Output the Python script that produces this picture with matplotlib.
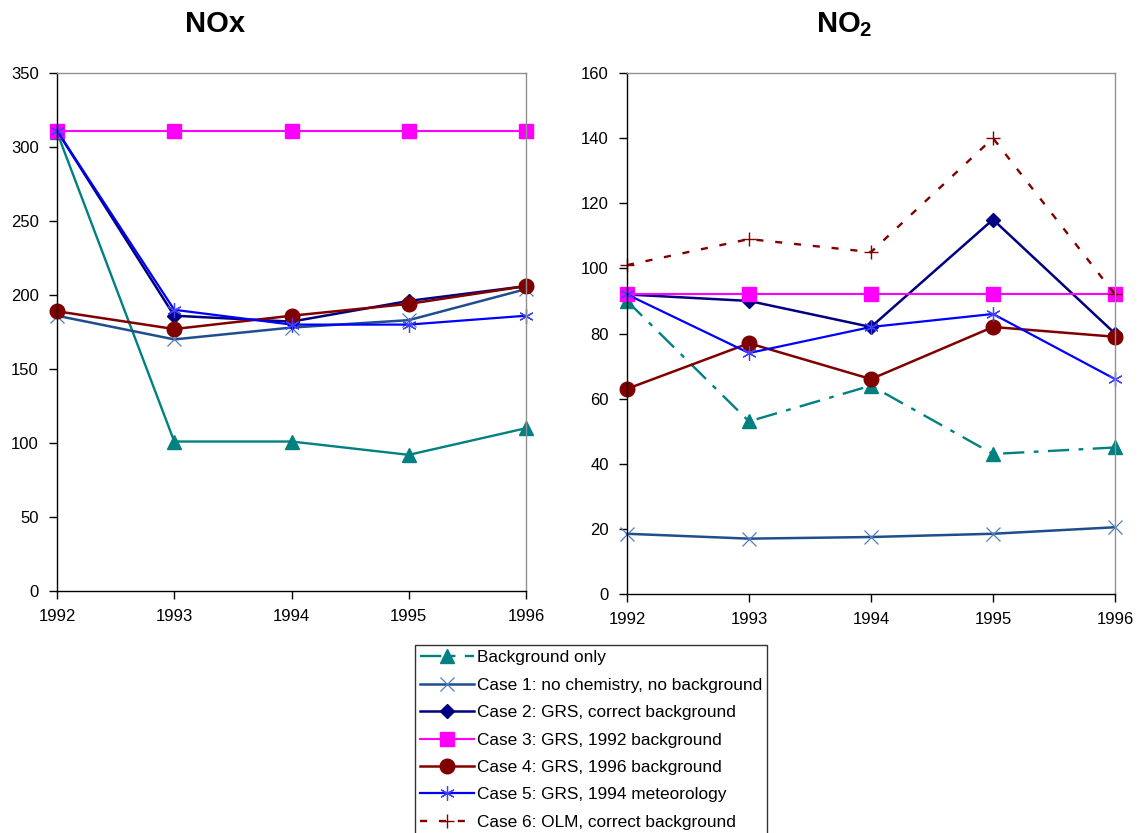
import matplotlib
matplotlib.use("Agg")
import matplotlib.pyplot as plt
from matplotlib.lines import Line2D

plt.rcParams['font.family'] = ['Liberation Sans', 'DejaVu Sans']
plt.rcParams['mathtext.fontset'] = 'custom'
plt.rcParams['mathtext.rm'] = 'Liberation Sans'
plt.rcParams['mathtext.bf'] = 'Liberation Sans:bold'

years = [1992, 1993, 1994, 1995, 1996]

labels = ["Background only",
          "Case 1: no chemistry, no background",
          "Case 2: GRS, correct background",
          "Case 3: GRS, 1992 background",
          "Case 4: GRS, 1996 background",
          "Case 5: GRS, 1994 meteorology",
          "Case 6: OLM, correct background"]

nox_background = [310, 101, 101, 92, 110]
nox_case1 = [186, 170, 178, 183, 204]
nox_case2 = [311, 186, 182, 196, 206]
nox_case3 = [311, 311, 311, 311, 311]
nox_case4 = [189, 177, 186, 194, 206]
nox_case5 = [311, 190, 180, 180, 186]

no2_background = [90, 53, 64, 43, 45]
no2_case1 = [18.5, 17, 17.5, 18.5, 20.5]
no2_case2 = [92, 90, 82, 115, 80]
no2_case3 = [92, 92, 92, 92, 92]
no2_case4 = [63, 77, 66, 82, 79]
no2_case5 = [92, 74, 82, 86, 66]
no2_case6 = [101, 109, 105, 140, 92]

asterisk = (6, 2, 0)
styles = [
    dict(color="#008080", ls=(0, (9, 4, 2, 4)), lw=1.7, marker="^", ms=10.5),
    dict(color="#1F4E8C", ls="-", lw=1.8, marker="x", ms=9.5, mew=0.9, mec="#4F7FBF"),
    dict(color="#000080", ls="-", lw=1.8, marker="D", ms=7.5),
    dict(color="#FF00FF", ls="-", lw=1.5, marker="s", ms=10.5),
    dict(color="#800000", ls="-", lw=1.8, marker="o", ms=10.5),
    dict(color="#0000FF", ls="-", lw=1.6, marker=asterisk, ms=10.5, mew=0.9, mec="#4040FF"),
    dict(color="#800000", ls=(0, (3, 5)), lw=1.7, marker="+", ms=10, mew=1.0),
]

fig = plt.figure(figsize=(11.44, 8.33), dpi=100)
ax1 = fig.add_axes([57/1144, 1-591/833, (526-57)/1144, (591-73)/833])
ax2 = fig.add_axes([627/1144, 1-594/833, (1115-627)/1144, (594-73)/833])

nox = [nox_background, nox_case1, nox_case2, nox_case3, nox_case4, nox_case5]
no2 = [no2_background, no2_case1, no2_case2, no2_case3, no2_case4, no2_case5, no2_case6]

for i, (data, st) in enumerate(zip(nox, styles)):
    st = dict(st)
    if i == 0:
        st['ls'] = '-'
    ax1.plot(years, data, clip_on=False, **st)
for data, st in zip(no2, styles):
    ax2.plot(years, data, clip_on=False, **st)

for ax, ymax, step in [(ax1, 350, 50), (ax2, 160, 20)]:
    ax.set_xlim(1992, 1996)
    ax.set_ylim(0, ymax)
    ax.set_xticks(years)
    ax.set_yticks(range(0, ymax + 1, step))
    ax.tick_params(axis='both', labelsize=12, direction='out', length=6, width=1, colors='black')
    ax.tick_params(axis='x', pad=7)
    ax.tick_params(axis='y', pad=7)
    for s in ['left', 'bottom']:
        ax.spines[s].set_color('black')
        ax.spines[s].set_linewidth(1)
    for s in ['top', 'right']:
        ax.spines[s].set_color('#909090')
        ax.spines[s].set_linewidth(1)

fig.text(215/1144, 1-32/833, "NOx", fontsize=21, fontweight='bold', ha='center', va='baseline')
fig.text(844/1144, 1-32/833, r"$\mathbf{NO_2}$", fontsize=21, ha='center', va='baseline')

handles = [Line2D([0], [0], **st) for st in styles]
leg = fig.legend(handles, labels, loc='upper left',
                 bbox_to_anchor=(415/1144, 1-645/833), bbox_transform=fig.transFigure,
                 fontsize=12.4, handlelength=3.1, handletextpad=0.2,
                 labelspacing=0.72, borderpad=0.3, borderaxespad=0,
                 frameon=True, fancybox=False, edgecolor='black')
leg.get_frame().set_linewidth(1)

fig.savefig("out.png", dpi=100)
